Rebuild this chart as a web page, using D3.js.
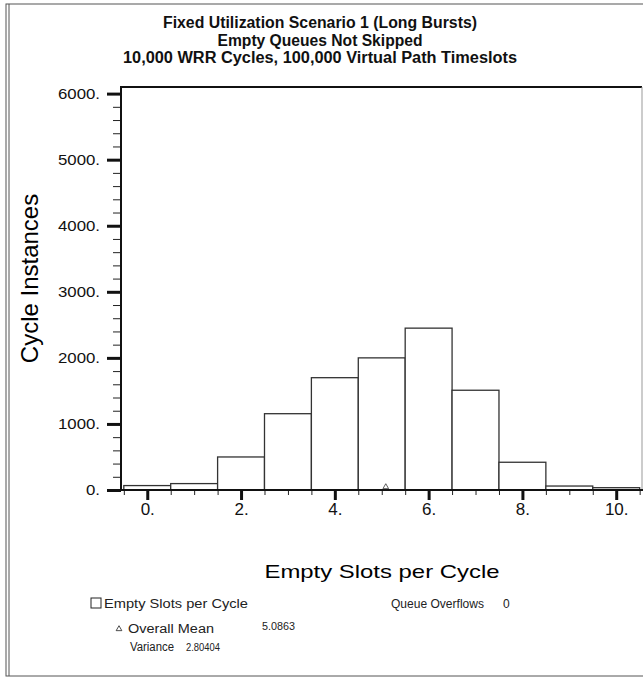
<!DOCTYPE html>
<html>
<head>
<meta charset="utf-8">
<script src="https://cdn.jsdelivr.net/npm/d3@7"></script>
<style>
  body { margin: 0; background: #fff; }
  svg { font-family: "Liberation Sans", Arial, sans-serif; }
</style>
</head>
<body>
<svg id="chart" width="643" height="677"></svg>
<script>
// histogram data
const bins = [0, 1, 2, 3, 4, 5, 6, 7, 8, 9, 10];
const counts = [67, 97, 500, 1155, 1700, 2000, 2450, 1510, 420, 60, 35];
const yMajor = [0, 1000, 2000, 3000, 4000, 5000, 6000];
const yMinor = d3.range(0, 6001, 200);
const xMajor = [0, 2, 4, 6, 8, 10];
const xMinor = d3.range(-0.5, 10.51, 0.5);
const titleLines = [
  "Fixed Utilization Scenario 1 (Long Bursts)",
  "Empty Queues Not Skipped",
  "10,000 WRR Cycles, 100,000 Virtual Path Timeslots"
];
const meanValue = 5.0863;
const varianceValue = 2.80404;
const queueOverflows = 0;

const svg = d3.select('#chart');

// stretch text horizontally to a given width (the original font renders wide)
function fit(sel, w) {
  sel.attr('textLength', w).attr('lengthAdjust', 'spacingAndGlyphs');
}

// outer frame
svg.append('rect').attr('x', 6).attr('y', 4).attr('width', 650).attr('height', 672)
  .attr('fill', 'none').attr('stroke', '#555').attr('stroke-width', 1);
svg.append('line').attr('x1', 9).attr('x2', 9).attr('y1', 4).attr('y2', 676)
  .attr('stroke', '#555').attr('stroke-width', 1);

const plot = { left: 121, right: 642, top: 87, bottom: 490 };

const x = d3.scaleLinear().domain([-0.56, 10.55]).range([plot.left, plot.right]);
const y = d3.scaleLinear().domain([0, 6100]).range([plot.bottom, plot.top]);

// titles (condensed bold in the original)
const titleW = [314, 205, 394];
titleLines.forEach((t, i) => {
  svg.append('text')
    .attr('x', 320).attr('y', 28 + i * 17.5)
    .attr('text-anchor', 'middle')
    .attr('font-size', 16).attr('font-weight', 'bold')
    .attr('fill', '#111')
    .text(t)
    .call(fit, titleW[i]);
});

// bars
svg.append('g').selectAll('rect')
  .data(bins)
  .enter()
  .append('rect')
  .attr('x', d => x(d - 0.5))
  .attr('width', d => x(d + 0.5) - x(d - 0.5))
  .attr('y', (d, i) => y(counts[i]))
  .attr('height', (d, i) => y(0) - y(counts[i]))
  .attr('fill', '#fff')
  .attr('stroke', '#333')
  .attr('stroke-width', 1.3);

// frame: top and right
svg.append('line').attr('x1', plot.left).attr('x2', plot.right)
  .attr('y1', plot.top).attr('y2', plot.top)
  .attr('stroke', '#111').attr('stroke-width', 2);
svg.append('line').attr('x1', plot.right).attr('x2', plot.right)
  .attr('y1', plot.top).attr('y2', plot.bottom)
  .attr('stroke', '#999').attr('stroke-width', 1);

// y axis
const yAxisMinor = svg.append('g')
  .attr('transform', `translate(${plot.left},0)`)
  .call(d3.axisLeft(y).tickValues(yMinor).tickSize(8).tickFormat(''));
yAxisMinor.select('.domain').remove();
yAxisMinor.selectAll('line').attr('stroke', '#222');

const yAxis = svg.append('g')
  .attr('transform', `translate(${plot.left},0)`)
  .call(d3.axisLeft(y).tickValues(yMajor).tickSize(14).tickPadding(7).tickFormat(d => d + '.'));
yAxis.select('.domain').remove();
yAxis.selectAll('line').attr('stroke', '#111').attr('stroke-width', 3);
yAxis.selectAll('text')
  .attr('font-size', 14).attr('fill', '#111').attr('font-family', null)
  .each(function () {
    const w = this.getComputedTextLength();
    d3.select(this).call(fit, w * 1.2);
  });

svg.append('line').attr('x1', plot.left).attr('x2', plot.left)
  .attr('y1', plot.top - 1).attr('y2', plot.bottom + 1)
  .attr('stroke', '#111').attr('stroke-width', 2);

// x axis
const xAxisMinor = svg.append('g')
  .attr('transform', `translate(0,${plot.bottom})`)
  .call(d3.axisBottom(x).tickValues(xMinor).tickSize(5).tickFormat(''));
xAxisMinor.select('.domain').remove();
xAxisMinor.selectAll('line').attr('stroke', '#222');

const xAxis = svg.append('g')
  .attr('transform', `translate(0,${plot.bottom})`)
  .call(d3.axisBottom(x).tickValues(xMajor).tickSize(10).tickPadding(3).tickFormat(d => d + '.'));
xAxis.select('.domain').remove();
xAxis.selectAll('line').attr('stroke', '#111').attr('stroke-width', 3);
xAxis.selectAll('text')
  .attr('font-size', 17).attr('fill', '#111').attr('font-family', null);

svg.append('line').attr('x1', plot.left).attr('x2', plot.right + 1)
  .attr('y1', plot.bottom).attr('y2', plot.bottom)
  .attr('stroke', '#111').attr('stroke-width', 2);

// mean marker on the baseline
svg.append('path')
  .attr('d', d3.symbol(d3.symbolTriangle, 14)())
  .attr('transform', `translate(${x(meanValue)},${plot.bottom - 3})`)
  .attr('fill', 'none').attr('stroke', '#333').attr('stroke-width', 0.8);

// axis titles
svg.append('text')
  .attr('transform', `translate(38,${(plot.top + plot.bottom) / 2 - 10}) rotate(-90)`)
  .attr('text-anchor', 'middle')
  .attr('font-size', 24)
  .text('Cycle Instances');

svg.append('text')
  .attr('x', 382).attr('y', 578)
  .attr('text-anchor', 'middle')
  .attr('font-size', 19)
  .text('Empty Slots per Cycle')
  .call(fit, 235);

// legend / statistics
const leg = svg.append('g').attr('font-size', 12).attr('fill', '#222');
leg.append('rect').attr('x', 91).attr('y', 598).attr('width', 10).attr('height', 10)
  .attr('fill', '#fff').attr('stroke', '#222').attr('stroke-width', 1);
leg.append('text').attr('x', 104).attr('y', 608).text('Empty Slots per Cycle').call(fit, 144);
leg.append('text').attr('x', 391).attr('y', 608).text('Queue Overflows').call(fit, 93);
leg.append('text').attr('x', 503).attr('y', 608).text(queueOverflows);

leg.append('path')
  .attr('d', d3.symbol(d3.symbolTriangle, 14)())
  .attr('transform', 'translate(119,629)')
  .attr('fill', 'none').attr('stroke', '#222').attr('stroke-width', 0.8);
leg.append('text').attr('x', 128).attr('y', 633).text('Overall Mean').call(fit, 86);
leg.append('text').attr('x', 262).attr('y', 630).attr('font-size', 11).text(meanValue).call(fit, 33);
leg.append('text').attr('x', 130).attr('y', 651).text('Variance').call(fit, 44);
leg.append('text').attr('x', 186).attr('y', 651).attr('font-size', 11).text(varianceValue).call(fit, 34);
</script>
</body>
</html>
